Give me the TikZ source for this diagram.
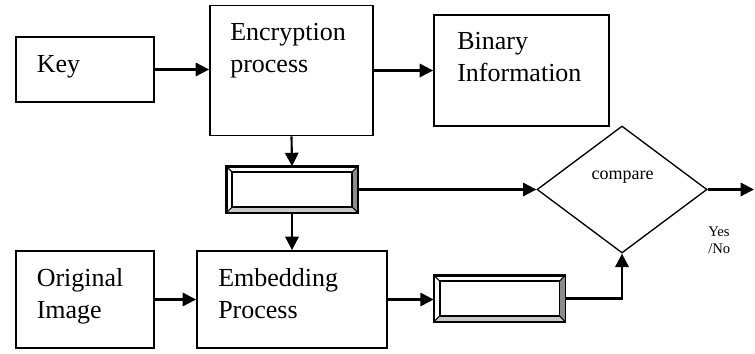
\documentclass[tikz,border=0pt]{standalone}
\usepackage{fontspec}
\setmainfont{Liberation Serif}
\usetikzlibrary{arrows.meta,positioning,calc,shapes.geometric}
\definecolor{bevdark}{HTML}{8C8C8C}
\definecolor{bevlight}{HTML}{C8C8C8}
\tikzset{
  >={Triangle[length=10pt,width=10pt]},
  % kastar
  bx/.style={draw=black,fill=white,line width=1.4pt,inner sep=0pt},
  tx/.style={anchor=base west,inner sep=0pt,font=\fontsize{19.5}{24}\selectfont},
  bv/.style={draw=black,fill=white,line width=1.3pt,inner sep=0pt,
             minimum width=97.5pt,minimum height=33.75pt},
  dm/.style={diamond,draw=black,line width=1pt,inner sep=0pt,
             minimum width=127.5pt,minimum height=95.25pt},
  % pilar
  ar/.style={->,draw=black,line width=1.6pt},
}
\newcommand\bevelfx[1]{%
  \fill[bevdark] (#1.north east) -- (#1.south east) -- ($(#1.south east)+(-6,-6)$)
    -- ($(#1.north east)+(-6,6)$) -- cycle;
  \fill[bevlight] (#1.south west) -- (#1.south east) -- ($(#1.south east)+(-6,-6)$)
    -- ($(#1.south west)+(6,-6)$) -- cycle;
  \draw[line width=0.8pt] (#1.north west) -- +(6,6) (#1.north east) -- +(-6,6)
    (#1.south west) -- +(6,-6) (#1.south east) -- +(-6,-6);
  \draw[line width=1.3pt] ($(#1.north west)+(6,6)$) rectangle ($(#1.south east)+(-6,-6)$);
  \draw[line width=1.3pt] (#1.north west) rectangle (#1.south east);
}
\begin{document}
\begin{tikzpicture}[x=0.75pt,y=-0.75pt]
  \useasboundingbox (0,0) rectangle (755,353);
  \node[bx,minimum width=103.5pt,minimum height=48.75pt] (key) at (85,69.5) {};
  \node[bx,minimum width=122.25pt,minimum height=97.5pt] (enc) at (291.5,70.5) {};
  \node[bx,minimum width=131.25pt,minimum height=83.25pt] (bin) at (521.5,70.5) {};
  \node[bx,minimum width=103.5pt,minimum height=72.75pt] (orig) at (85,299.5) {};
  \node[bx,minimum width=142.5pt,minimum height=72.75pt] (emb) at (292,299.5) {};
  \node[bv] (mid) at (292,189.5) {};
  \node[bv] (low) at (499.5,298.5) {};
  \bevelfx{mid}
  \bevelfx{low}
  \node[dm] (cmp) at (622,189.5) {};
  \coordinate (out) at (754,189.5);

  \node[tx] (keytx) at (36.5,72.7) {Key};
  \node[tx] (enctx) at (230,40.7) {\begin{tabular}[t]{@{}l@{}}Encryption\\process\end{tabular}};
  \node[tx] (bintx) at (457,50) {\begin{tabular}[t]{@{}l@{}}Binary\\Information\end{tabular}};
  \node[tx] (origtx) at (36.5,286.5) {\begin{tabular}[t]{@{}l@{}}Original\\Image\end{tabular}};
  \node[tx] (embtx) at (218,286.5) {\begin{tabular}[t]{@{}l@{}}Embedding\\Process\end{tabular}};
  \node[font=\fontsize{13.5}{15}\selectfont,anchor=base,inner sep=0pt] (cmptx) at (622.5,179) {compare};
  \node[anchor=base west,inner sep=0pt,font=\fontsize{11}{12.75}\selectfont]
    (yn) at (708,236.7) {\begin{tabular}[t]{@{}l@{}}Yes\\/No\end{tabular}};

  \draw[ar] (key.east) -- (key.east -| enc.west);
  \draw[ar] (enc.east) -- (bin.west);
  \draw[ar] (enc.south) -- (mid.north);
  \draw[ar] (mid.south) -- (emb.north);
  \draw[ar] (mid.east) -- (cmp.west);
  \draw[ar] (orig.east) -- (emb.west);
  \draw[ar] (emb.east) -- (emb.east -| low.west);
  \draw[ar] (low.east) -| (cmp.south);
  \draw[ar] (cmp.east) -- (out);
\end{tikzpicture}
\end{document}
